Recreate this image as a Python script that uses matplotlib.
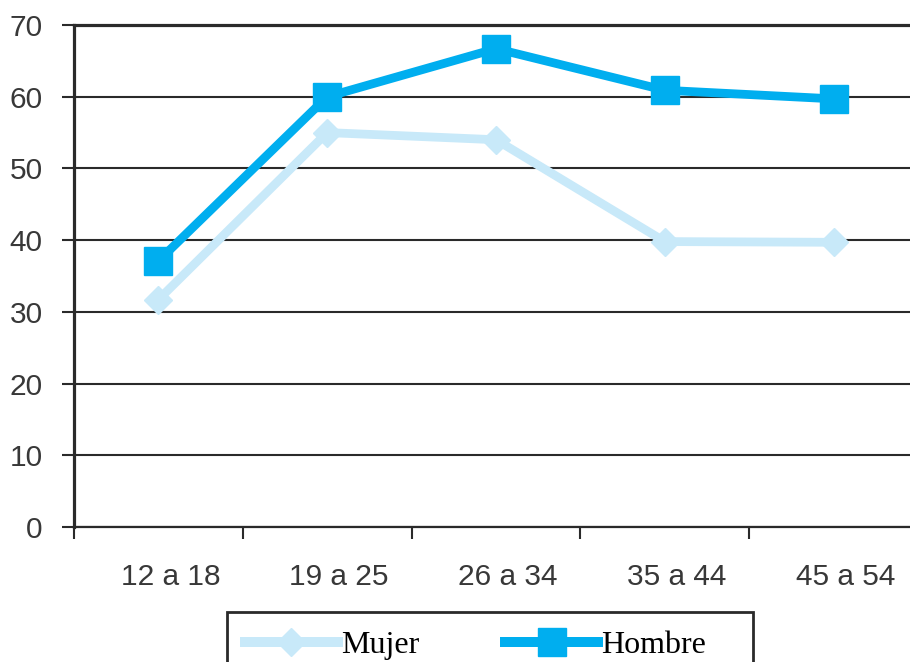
import matplotlib.pyplot as plt
import matplotlib.transforms as mtransforms
from matplotlib.patches import Rectangle

# age groups and percentages per sex
age_groups = ["12 a 18", "19 a 25", "26 a 34", "35 a 44", "45 a 54"]
mujer = [31.7, 55.0, 54.0, 39.8, 39.7]
hombre = [37.1, 60.0, 66.7, 60.9, 59.7]
y_ticks = [0, 10, 20, 30, 40, 50, 60, 70]

MUJER_COLOR = "#c8e9f9"
HOMBRE_COLOR = "#00aeef"
INK = "#2a2a2a"


def plot_data():
    fig = plt.figure(figsize=(9.10, 6.62), dpi=100)
    # the plot runs past the right edge of the canvas
    ax = fig.add_axes([74 / 910, 135 / 662, 844 / 910, 502 / 662])

    x = list(range(len(age_groups)))
    ax.plot(x, mujer, color=MUJER_COLOR, lw=6.3, marker="D", ms=14,
            mec=MUJER_COLOR, label="Mujer", zorder=3)
    ax.plot(x, hombre, color=HOMBRE_COLOR, lw=6.3, marker="s", ms=19.5,
            mec=HOMBRE_COLOR, label="Hombre", zorder=4)

    ax.set_xlim(-0.5, len(age_groups) - 0.5)
    ax.set_ylim(0, 70)

    ax.set_yticks(y_ticks)
    ax.yaxis.grid(True, color=INK, lw=1.5)
    ax.set_axisbelow(True)
    ax.tick_params(axis="y", length=8.6, width=1.5, color=INK, pad=14,
                   labelsize=21.5, labelcolor="#383838")

    # category labels centred, tick marks on the boundaries
    ax.set_xticks(x)
    ax.set_xticklabels(age_groups)
    ax.set_xticks([i - 0.5 for i in x], minor=True)
    ax.tick_params(axis="x", which="major", length=0, pad=26,
                   labelsize=21.5, labelcolor="#383838")
    ax.tick_params(axis="x", which="minor", length=8.6, width=1.5, color=INK)
    shift = mtransforms.ScaledTranslation(12 / 100, 0, fig.dpi_scale_trans)
    for lbl in ax.get_xticklabels():
        lbl.set_transform(lbl.get_transform() + shift)
        lbl.set_fontfamily("Liberation Sans")
    for lbl in ax.get_yticklabels():
        lbl.set_fontfamily("Liberation Sans")

    ax.spines["right"].set_visible(False)
    ax.spines["left"].set_linewidth(2.3)
    ax.spines["top"].set_linewidth(2.3)
    ax.spines["bottom"].set_linewidth(1.6)
    for side in ("left", "top", "bottom"):
        ax.spines[side].set_color(INK)

    # legend box, cut off by the bottom of the canvas
    fig.patches.append(Rectangle((227 / 910, -0.05), (753 - 227) / 910,
                                 (662 - 612) / 662 + 0.05,
                                 transform=fig.transFigure, fill=False,
                                 ec=INK, lw=2.0, clip_on=False))
    leg = fig.legend(loc="center left", bbox_to_anchor=(245 / 910, 17 / 662),
                     ncol=2, frameon=False, borderpad=0, borderaxespad=0,
                     handlelength=2.9, handletextpad=0.1, columnspacing=2.7,
                     numpoints=1,
                     prop={"family": "Liberation Serif", "size": 23})
    for line in leg.get_lines():
        line.set_linewidth(7.2)

    fig.savefig("out.png", dpi=100)
    plt.close("all")


def main():
    plot_data()


if __name__ == "__main__":
    main()
